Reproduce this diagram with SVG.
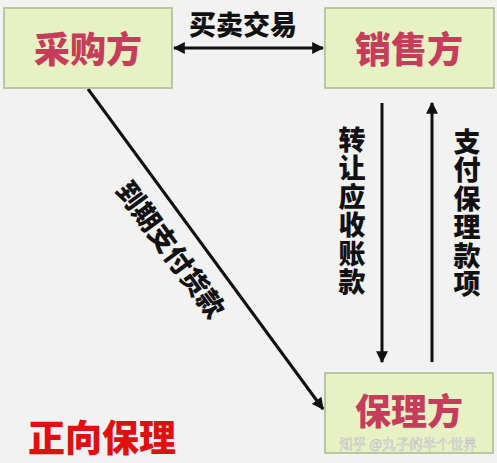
<svg xmlns="http://www.w3.org/2000/svg" width="497" height="463" viewBox="0 0 497 463">
<defs>
<style>
.box{fill:#e8f1c4;stroke:#a9b98f;stroke-width:1.5}
.nt{font-family:"Noto Sans CJK SC","Noto Sans",sans-serif;font-weight:900;font-size:36px;fill:#c63d5c;text-anchor:middle}
.lb{font-family:"Noto Sans CJK SC","Noto Sans",sans-serif;font-weight:900;font-size:27px;fill:#111;text-anchor:middle}
.vt{font-family:"Noto Sans CJK SC","Noto Sans",sans-serif;font-weight:900;font-size:27px;fill:#111;writing-mode:vertical-rl;text-orientation:upright;letter-spacing:1.5px}
.ln{stroke:#111;stroke-width:3;fill:none}
</style>
<marker id="ah" viewBox="0 0 10 10" refX="9" refY="5" markerWidth="4" markerHeight="4" orient="auto-start-reverse" markerUnits="strokeWidth">
<path d="M0,0 L10,5 L0,10 z" fill="#111"/>
</marker>
</defs>
<rect width="497" height="463" fill="#f2f2f2"/>
<g id="connectors">
<line class="ln" x1="174" y1="48" x2="323" y2="48" marker-start="url(#ah)" marker-end="url(#ah)"/>
<line class="ln" x1="88" y1="89" x2="323" y2="409" marker-end="url(#ah)"/>
<line class="ln" x1="382" y1="103" x2="382" y2="362" marker-end="url(#ah)"/>
<line class="ln" x1="432" y1="362" x2="432" y2="103" marker-end="url(#ah)"/>
<text class="lb" x="243" y="35">买卖交易</text>
<text class="lb" x="170" y="259" transform="rotate(53.6 170 250)">到期支付货款</text>
<text class="vt" x="352" y="126">转让应收账款</text>
<text class="vt" x="467" y="128">支付保理款项</text>
</g>
<g id="buyer">
<rect class="box" x="4" y="8" width="168" height="80"/>
<text class="nt" x="88" y="63">采购方</text>
</g>
<g id="seller">
<rect class="box" x="325" y="8" width="169" height="80"/>
<text class="nt" x="409" y="63">销售方</text>
</g>
<g id="factor">
<rect class="box" x="325" y="373" width="168" height="80"/>
<text class="nt" x="409" y="425">保理方</text>
<text x="408" y="449" font-family="Noto Sans CJK SC,sans-serif" font-size="13.5" fill="#ffffff" stroke="#b5b5b5" stroke-width="0.5" text-anchor="middle">知乎 @丸子的半个世界</text>
</g>
<text x="28" y="452" font-family="Noto Sans CJK SC,sans-serif" font-weight="900" font-size="37" fill="#e01010">正向保理</text>
</svg>
